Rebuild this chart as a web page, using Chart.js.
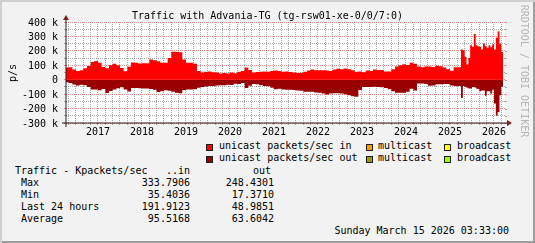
<!DOCTYPE html>
<html><head><meta charset="utf-8">
<script src="https://cdn.jsdelivr.net/npm/chart.js@4/dist/chart.umd.min.js"></script>
<style>
html,body{margin:0;padding:0;background:#f2f2f2;}
#wrap{position:absolute;left:0;top:0;width:535px;height:243px;background:#f2f2f2;overflow:hidden;font-family:'DejaVu Sans Mono',monospace;font-size:10px;color:#000;}
#shade{position:absolute;left:0;top:0;width:535px;height:243px;box-shadow:inset 2px 2px 0 #cfcfcf, inset -2px -2px 0 #9e9e9e;pointer-events:none;}
.t{position:absolute;white-space:pre;line-height:12px;height:12px;}
.box{position:absolute;width:5px;height:5px;border:1px solid #1f1f1f;}
canvas{position:absolute;left:0;top:0;}
</style></head>
<body>
<div id="wrap">
<canvas id="c" width="535" height="140"></canvas>
<div class="t" style="left:0;width:535px;top:10px;text-align:center">Traffic with Advania-TG (tg-rsw01-xe-0/0/7:0)</div>
<div class="t" style="left:-7px;top:66.5px;width:40px;text-align:center;transform:rotate(-90deg)">p/s</div>
<div class="t" style="left:454px;top:65px;width:140px;text-align:center;color:#b4b4b4;transform:rotate(90deg);transform-origin:70px 6px">RRDTOOL / TOBI OETIKER</div>

<div class="box" style="left:206px;top:144px;background:#ff0000"></div>
<div class="t" style="left:219px;top:140px">unicast packets/sec in</div>
<div class="box" style="left:366px;top:144px;background:#ff9900"></div>
<div class="t" style="left:378px;top:140px">multicast</div>
<div class="box" style="left:444px;top:144px;background:#ffff00"></div>
<div class="t" style="left:457px;top:140px">broadcast</div>
<div class="box" style="left:206px;top:156px;background:#990000"></div>
<div class="t" style="left:219px;top:152px">unicast packets/sec out</div>
<div class="box" style="left:366px;top:156px;background:#999900"></div>
<div class="t" style="left:378px;top:152px">multicast</div>
<div class="box" style="left:444px;top:156px;background:#99ff00"></div>
<div class="t" style="left:457px;top:152px">broadcast</div>

<div id="stats"></div>
<div class="t" style="right:26px;top:225px">Sunday March 15 2026 03:33:00</div>
<div id="shade"></div>
</div>
<script>
// ---- data (values in Kpackets/sec) ----
const periods = [
 '2016-04','2016-05','2016-06','2016-07','2016-08','2016-09','2016-10','2016-11','2016-12',
 '2017-01','2017-02','2017-03','2017-04','2017-05','2017-06','2017-07','2017-08','2017-09','2017-10','2017-11','2017-12',
 '2018-01','2018-02','2018-03','2018-04','2018-05','2018-06','2018-07','2018-08','2018-09','2018-10','2018-11','2018-12',
 '2019-01','2019-02','2019-03','2019-04','2019-05','2019-06','2019-07','2019-08','2019-09','2019-10','2019-11','2019-12',
 '2020-01','2020-02','2020-03','2020-04','2020-05','2020-06','2020-07','2020-08','2020-09','2020-10','2020-11','2020-12',
 '2021-01','2021-02','2021-03','2021-04','2021-05','2021-06','2021-07','2021-08','2021-09','2021-10','2021-11','2021-12',
 '2022-01','2022-02','2022-03','2022-04','2022-05','2022-06','2022-07','2022-08','2022-09','2022-10','2022-11','2022-12',
 '2023-01','2023-02','2023-03','2023-04','2023-05','2023-06','2023-07','2023-08','2023-09','2023-10','2023-11','2023-12',
 '2024-01','2024-02','2024-03','2024-04','2024-05','2024-06','2024-07','2024-08','2024-09','2024-10','2024-11','2024-12',
 '2025-01','2025-02','2025-03',
 '2025-04-01','2025-04-16','2025-05-01','2025-05-16','2025-06-01','2025-06-16','2025-07-01','2025-07-16',
 '2025-08-01','2025-08-16','2025-09-01','2025-09-16','2025-10-01','2025-10-16','2025-11-01','2025-11-16',
 '2025-12-01','2025-12-16','2026-01-01','2026-01-16','2026-02-01','2026-02-16','2026-03-01'
];
const dataEnd = '2026-03-15';

const unicastIn = [
 85,86,70,60,65,80,95,122,130,
 118,88,80,100,110,100,82,58,90,120,118,113,
 114,114,140,135,128,117,117,150,193,193,190,140,
 117,117,110,60,50,55,57,52,50,43,47,43,
 50,45,55,60,85,68,50,53,56,57,55,60,
 63,60,55,57,54,50,46,48,56,63,70,66,
 65,66,64,61,71,76,72,77,72,66,56,57,
 51,64,60,71,68,68,57,57,72,92,100,108,
 102,118,110,92,86,92,92,88,96,93,84,72,
 62,87,86,
 209,205,160,105,151,239,228,316,
 239,232,228,209,251,232,221,239,
 225,246,209,290,334,250,192
];
const unicastOut = [
 17,22,34,40,35,38,50,68,68,
 73,65,92,78,68,60,52,68,82,58,57,60,
 61,61,65,70,85,80,73,77,84,91,94,72,
 68,68,66,55,50,47,43,43,40,38,38,35,
 36,28,30,22,58,42,30,31,38,44,45,55,
 66,63,68,70,70,72,74,77,84,84,84,88,
 91,95,103,96,93,93,96,100,107,114,118,72,
 50,50,50,48,50,52,58,66,80,90,91,91,
 84,62,75,27,27,30,42,40,31,31,30,30,
 40,43,43,
 126,43,50,55,61,61,50,52,
 61,65,80,75,75,112,80,80,
 96,70,165,248,223,107,49
];
const multicastIn = [
 0,0,0,0,0,0,0,0,0,
 0,0,0,0,0,0,0,0,0,0,0,0,
 0,0,0,0,0,0,0,0,0,0,0,0,
 0,0,0,0,0,0,0,0,0,0,0,0,
 0,0,0,0,0,0,0,0,0,0,0,0,
 0,0,0,0,0,0,0,0,0,0,0,0,
 0,0,0,0,0,0,0,0,0,0,0,0,
 0,0,0,0,0,0,0,0,0,0,0,0,
 0,0,0,0,0,0,0,0,0,0,0,0,
 0,0,0,
 0,0,0,0,0,0,0,0,
 0,0,0,0,0,0,0,0,
 0,0,0,3,4,0,0
];
const broadcastIn = [
 0,0,0,0,0,0,0,0,0,
 0,0,0,0,0,0,0,0,0,0,0,0,
 0,0,0,0,0,0,0,0,0,0,0,0,
 0,0,0,0,0,0,0,0,0,0,0,0,
 0,0,0,0,0,0,0,0,0,0,0,0,
 0,0,0,0,0,0,0,0,0,0,0,0,
 0,0,0,0,0,0,0,0,0,0,0,0,
 0,0,0,0,0,0,0,0,0,0,0,0,
 0,0,0,0,0,0,0,0,0,0,0,0,
 0,0,0,
 0,0,0,0,0,0,0,0,
 0,0,0,0,0,0,0,0,
 0,0,0,0,1,0,0
];
const multicastOut = [
 0,0,0,0,0,0,0,0,0,
 0,0,0,0,0,0,0,0,0,0,0,0,
 0,0,0,0,0,0,0,0,0,0,0,0,
 0,0,0,0,0,0,0,0,0,0,0,0,
 0,0,0,0,0,0,0,0,0,0,0,0,
 0,0,0,0,0,0,0,0,0,0,0,0,
 0,0,0,0,0,0,0,0,0,0,0,0,
 0,0,0,0,0,0,0,0,0,0,0,0,
 0,0,0,0,0,0,0,0,0,0,0,0,
 0,0,0,
 0,0,0,0,0,0,0,0,
 0,0,0,0,0,0,0,0,
 0,0,0,3,2,0,0
];
const broadcastOut = [
 0,0,0,0,0,0,0,0,0,
 0,0,0,0,0,0,0,0,0,0,0,0,
 0,0,0,0,0,0,0,0,0,0,0,0,
 0,0,0,0,0,0,0,0,0,0,0,0,
 0,0,0,0,0,0,0,0,0,0,0,0,
 0,0,0,0,0,0,0,0,0,0,0,0,
 0,0,0,0,0,0,0,0,0,0,0,0,
 0,0,0,0,0,0,0,0,0,0,0,0,
 0,0,0,0,0,0,0,0,0,0,0,0,
 0,0,0,
 0,0,0,0,0,0,0,0,
 0,0,0,0,0,0,0,0,
 0,0,0,0,0,0,0
];
const yearLabels = ['2017','2018','2019','2020','2021','2022','2023','2024','2025','2026'];
const statRows = ['Max','Min','Last 24 hours','Average'];
const statIn  = ['333.7906','35.4036','191.9123','95.5168'];
const statOut = ['248.4301','17.3710','48.9851','63.6042'];

// ---- stats table ----
(function(){
  const s = document.getElementById('stats');
  let h = '<div class="t" style="left:15px;top:165px">Traffic - Kpackets/sec</div>'+
          '<div class="t" style="right:345px;top:165px">..in</div>'+
          '<div class="t" style="right:264px;top:165px">out</div>';
  statRows.forEach((r,i)=>{
    const top = 177 + i*12;
    h += '<div class="t" style="left:21px;top:'+top+'px">'+r+'</div>'+
         '<div class="t" style="right:345px;top:'+top+'px">'+statIn[i]+'</div>'+
         '<div class="t" style="right:261px;top:'+top+'px">'+statOut[i]+'</div>';
  });
  s.innerHTML = h;
})();

// ---- chart ----
function toYear(s){ const p = s.split('-').map(Number); return p[0] + (p[1]-1)/12 + ((p[2]||1)-1)/360; }
const xs = periods.map(toYear).concat([toYear(dataEnd)]);
function series(vals, sign){
  const d = vals.map((v,i)=>({x: xs[i], y: sign*v*1000}));
  d.push({x: xs[vals.length], y: sign*vals[vals.length-1]*1000});
  return d;
}
function ds(label, vals, sign, color, fill, stack){
  return {label, data: series(vals, sign), backgroundColor: color, borderColor: 'rgba(0,0,0,0)',
    borderWidth: 1, pointRadius: 0, stepped: true, fill, stack, tension: 0};
}
const isInt = v => Math.abs(v - Math.round(v)) < 1e-6;
const MINOR = 'rgba(143,143,143,0.75)', MAJOR = 'rgba(222,79,79,0.6)';

const frame = {
  id: 'frame',
  beforeDraw(chart){
    const {ctx, chartArea: a} = chart;
    ctx.save(); ctx.fillStyle = '#ffffff';
    ctx.fillRect(a.left, a.top, a.right - a.left, a.bottom - a.top);
    ctx.restore();
  },
  afterDraw(chart){
    const {ctx, chartArea: a, scales} = chart;
    ctx.save();
    scales.y.ticks.forEach(t=>{
      const y = Math.round(scales.y.getPixelForValue(t.value)) + 0.5;
      ctx.strokeStyle = (t.value % 100000 === 0) ? MAJOR : MINOR;
      ctx.lineWidth = 1; ctx.beginPath(); ctx.moveTo(a.right, y); ctx.lineTo(a.right + 2, y); ctx.stroke();
    });
    ctx.strokeStyle = '#1f1f1f'; ctx.lineWidth = 1;
    ctx.beginPath(); ctx.moveTo(a.left - 4, a.bottom); ctx.lineTo(a.right + 4, a.bottom); ctx.stroke();
    ctx.beginPath(); ctx.moveTo(a.left, a.bottom + 4); ctx.lineTo(a.left, a.top - 4); ctx.stroke();
    ctx.fillStyle = '#801f1f';
    ctx.beginPath(); ctx.moveTo(a.right + 2, a.bottom - 3); ctx.lineTo(a.right + 2, a.bottom + 3); ctx.lineTo(a.right + 7, a.bottom); ctx.closePath(); ctx.fill();
    ctx.beginPath(); ctx.moveTo(a.left - 3, a.top - 2); ctx.lineTo(a.left + 3, a.top - 2); ctx.lineTo(a.left, a.top - 7); ctx.closePath(); ctx.fill();
    ctx.restore();
  }
};

Chart.defaults.font.family = "'DejaVu Sans Mono'";
Chart.defaults.font.size = 10;
Chart.defaults.color = '#000';

new Chart(document.getElementById('c'), {
  type: 'line',
  data: { datasets: [
    ds('unicast packets/sec in', unicastIn, 1, '#ff0000', 'origin', 'in'),
    ds('multicast', multicastIn, 1, '#ff9900', '-1', 'in'),
    ds('broadcast', broadcastIn, 1, '#ffff00', '-1', 'in'),
    ds('unicast packets/sec out', unicastOut, -1, '#990000', 'origin', 'out'),
    ds('multicast', multicastOut, -1, '#999900', '-1', 'out'),
    ds('broadcast', broadcastOut, -1, '#99ff00', '-1', 'out')
  ]},
  options: {
    responsive: false, animation: false, devicePixelRatio: 1, events: [],
    layout: { padding: { top: 22, right: 30, left: 0, bottom: 0 } },
    plugins: { legend: { display: false }, tooltip: { enabled: false }, title: { display: false } },
    scales: {
      x: {
        type: 'linear', min: 2016.273, max: 2026.25,
        afterFit(s){ s.height = 17; },
        afterBuildTicks(s){
          const t = [];
          for (let y = 2016; y <= 2026; y++) for (let k = 0; k < 6; k++) {
            const v = y + k/6; if (v > s.min && v < s.max) t.push({value: v});
          }
          s.ticks = t;
        },
        ticks: { autoSkip: false, maxRotation: 0, padding: 1,
          callback: v => isInt(v) ? (yearLabels.includes(String(Math.round(v))) ? String(Math.round(v)) : '') : '' },
        grid: { color: c => isInt(c.tick.value) ? MAJOR : MINOR, tickLength: 2, drawTicks: true,
                tickColor: c => isInt(c.tick.value) ? MAJOR : MINOR },
        border: { display: false, dash: [1,1] }
      },
      y: {
        min: -300000, max: 400000, stacked: true,
        afterFit(s){ s.width = 66; },
        afterBuildTicks(s){
          const t = []; for (let v = -300000; v <= 400000; v += 50000) t.push({value: v}); s.ticks = t;
        },
        ticks: { autoSkip: false, padding: 6, labelOffset: 1,
          callback: v => v % 100000 !== 0 ? '' : (v === 0 ? '0' : (v/1000) + ' k') },
        grid: { color: c => (c.tick.value % 100000 === 0) ? MAJOR : MINOR, tickLength: 2, drawTicks: true,
                tickColor: c => (c.tick.value % 100000 === 0) ? MAJOR : MINOR },
        border: { display: false, dash: [1,1] }
      }
    }
  },
  plugins: [frame]
});
</script>
</body></html>
